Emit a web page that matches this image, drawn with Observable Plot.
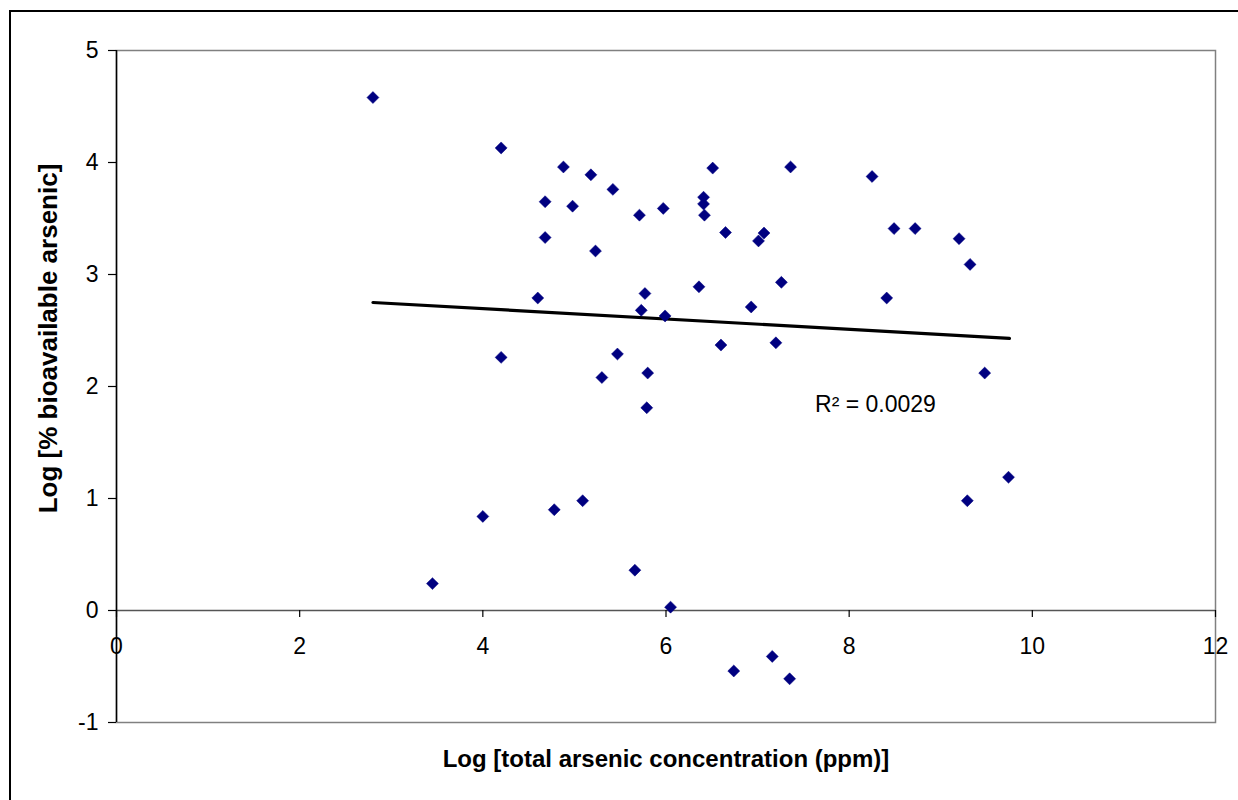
<!DOCTYPE html>
<html><head><meta charset="utf-8">
<script src="https://cdn.jsdelivr.net/npm/d3@7"></script>
<script src="https://cdn.jsdelivr.net/npm/@observablehq/plot@0.6"></script>
<style>
html,body{margin:0;padding:0;background:#fff;overflow:hidden;}
#wrap{position:relative;width:1238px;height:800px;overflow:hidden;}
#border{position:absolute;left:9px;top:10px;width:1400px;height:1000px;border:2px solid #000;box-sizing:border-box;}
#chart{position:absolute;left:0;top:0;}
</style></head><body>
<div id="wrap"><div id="border"></div><div id="chart"></div></div>
<script>
const xVals = [2.80, 4.20, 4.88, 5.18, 5.42, 4.68, 4.98, 4.68, 5.23, 5.71, 5.97, 6.41, 6.41, 6.42, 6.51, 6.65, 7.07, 7.01, 7.36, 8.25, 8.49, 8.72, 9.20, 9.32, 8.41, 4.60, 5.77, 6.36, 7.26, 5.73, 5.99, 6.93, 4.20, 5.47, 5.30, 5.80, 6.60, 7.20, 5.79, 9.48, 9.74, 9.29, 5.09, 4.78, 4.00, 3.45, 5.66, 6.05, 6.74, 7.16, 7.35];
const yVals = [4.58, 4.13, 3.96, 3.89, 3.76, 3.65, 3.61, 3.33, 3.21, 3.53, 3.59, 3.69, 3.63, 3.53, 3.95, 3.375, 3.37, 3.30, 3.96, 3.875, 3.41, 3.41, 3.32, 3.09, 2.79, 2.79, 2.83, 2.89, 2.93, 2.68, 2.63, 2.71, 2.26, 2.29, 2.08, 2.12, 2.37, 2.39, 1.81, 2.12, 1.19, 0.98, 0.98, 0.90, 0.84, 0.24, 0.36, 0.03, -0.54, -0.41, -0.61];
const trendX = [2.80, 9.75];
const trendY = [2.75, 2.43];
const xTicks = [0, 2, 4, 6, 8, 10, 12];
const yTicks = [-1, 0, 1, 2, 3, 4, 5];
const xTitle = "Log [total arsenic concentration (ppm)]";
const yTitle = "Log [% bioavailable arsenic]";
const r2Label = "R² = 0.0029";

const points = xVals.map((x, i) => ({x, y: yVals[i]}));
const trend = trendX.map((x, i) => ({x, y: trendY[i]}));
const trendEnd = [trend[trend.length - 1]];

const chart = Plot.plot({
  width: 1238,
  height: 800,
  marginLeft: 116,
  marginRight: 23,
  marginTop: 50,
  marginBottom: 78,
  style: {fontFamily: "'Liberation Sans', Arial, sans-serif", background: "transparent", color: "#000"},
  x: {domain: [0, 12], axis: null},
  y: {domain: [-1, 5], axis: null},
  marks: [
    Plot.frame({stroke: "#808080", strokeWidth: 1.5}),
    Plot.ruleY([0], {stroke: "#555", strokeWidth: 1.5}),
    Plot.ruleX([0], {stroke: "#000", strokeWidth: 1.5}),
    Plot.ruleX(xTicks, {x: d => d, y1: 0, y2: -7 / 112, stroke: "#000", strokeWidth: 1.2}),
    Plot.text(xTicks, {x: d => d, y: 0, dy: 36, text: d => String(d), fontSize: 23, fill: "#000"}),
    Plot.axisY(yTicks, {tickSize: 8, tickPadding: 10, fontSize: 23, label: null, tickFormat: d => String(d), stroke: "#000", strokeWidth: 1.2}),
    Plot.line(trend, {x: "x", y: "y", stroke: "#000", strokeWidth: 3.2}),
    Plot.dot(points, {x: "x", y: "y", symbol: "diamond2", r: 5.4, fill: "#000080", stroke: "#000080", strokeWidth: 0.5}),
    Plot.text(trendEnd, {x: "x", y: "y", text: () => r2Label, dx: -134, dy: 66, fontSize: 23, fill: "#000"}),
    Plot.text([xTitle], {frameAnchor: "bottom", dy: 44, text: d => d, fontSize: 24, fontWeight: "bold", fill: "#000"}),
    Plot.text([yTitle], {frameAnchor: "left", textAnchor: "middle", dx: -68, dy: -48, rotate: -90, text: d => d, fontSize: 26, fontWeight: "bold", fill: "#000"})
  ]
});
document.getElementById("chart").appendChild(chart);
</script>
</body></html>
